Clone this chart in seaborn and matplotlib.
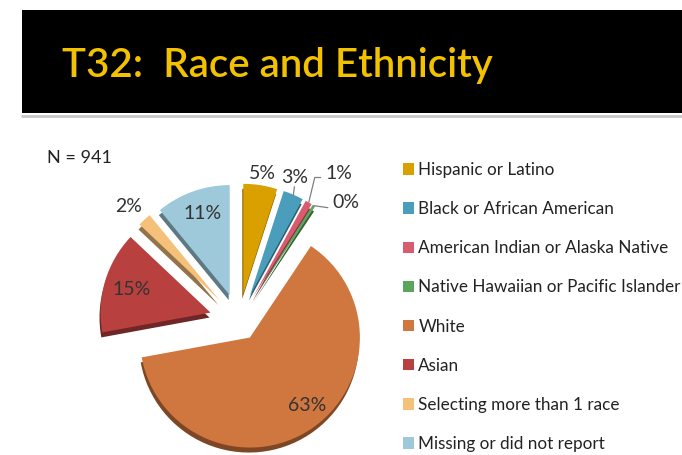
import numpy as np
import matplotlib
matplotlib.use("Agg")
import matplotlib.pyplot as plt
from matplotlib.patches import Rectangle
import seaborn as sns

sns.set_theme(style="white")
plt.rcParams['font.family'] = ['Lato', 'DejaVu Sans']

# ---- data ----
categories = ["Hispanic or Latino", "Black or African American",
              "American Indian or Alaska Native", "Native Hawaiian or Pacific Islander",
              "White", "Asian", "Selecting more than 1 race", "Missing or did not report"]
percent = [5, 3, 1, 0.4, 63, 15, 2, 11]
n_total = 941
title = "T32:  Race and Ethnicity"

# ---- style ----
colors = ["#D9A000", "#4A9DBB", "#D95B6F", "#5AA65A",
          "#D0773F", "#B8403F", "#F5C07A", "#9DC9DA"]
explode_frac = [0.25, 0.25, 0.25, 0.25, 0.18, 0.27, 0.26, 0.25]
label_r = [1.36, 1.40, 1.62, 1.45, 0.99, 1.02, 1.45, 1.03]
label_dang = [0, 2, -3.5, -9, 5.7, 0, 1, -1]

W, H = 682, 455
fig = plt.figure(figsize=(W / 100, H / 100), dpi=100)
fig.patch.set_facecolor("white")
ax = fig.add_axes([0, 0, 1, 1])

cx, cy, R = 239, H - 321, 110
palette = sns.color_palette(colors)
dark = [tuple(c * 0.6 for c in col) for col in palette]
explode = [e * R for e in explode_frac]

# depth layer (3D look)
ax.pie(percent, explode=explode, colors=dark, startangle=90, counterclock=False,
       center=(cx - 1, cy - 5), radius=R, wedgeprops=dict(linewidth=0))
wedges, _ = ax.pie(percent, explode=explode, colors=palette, startangle=90,
                   counterclock=False, center=(cx, cy), radius=R,
                   wedgeprops=dict(linewidth=0))
for w in wedges:
    w.set_zorder(3)

# percentage labels
mids = []
for i, (w, v) in enumerate(zip(wedges, percent)):
    thm = 0.5 * (w.theta1 + w.theta2)
    mids.append(thm)
    a = np.deg2rad(thm + label_dang[i])
    tx, ty = cx + label_r[i] * R * np.cos(a), cy + label_r[i] * R * np.sin(a)
    ax.text(tx, ty, f"{v:.0f}%", ha="center", va="center", fontsize=14,
            color="#333333", zorder=5)

# leader lines for small slices
def edge_point(i, rr=1.0):
    w = wedges[i]
    a = np.deg2rad(mids[i])
    vx, vy = w.center
    return vx + rr * R * np.cos(a), vy + rr * R * np.sin(a)

lc = "#808080"
x0, y0 = edge_point(1)
ax.plot([x0, x0 + 1], [y0, y0 + 8], color=lc, lw=0.9, zorder=4)
x0, y0 = edge_point(2)
ax.plot([x0, x0 + 6, x0 + 12], [y0, y0 + 25, y0 + 25], color=lc, lw=0.9, zorder=4)
x0, y0 = edge_point(3)
ax.plot([x0, x0 + 14], [y0, y0 - 2], color=lc, lw=0.9, zorder=4)

ax.set_xlim(0, W)
ax.set_ylim(0, H)
ax.set_aspect("equal")
ax.axis("off")

# banner
ax.add_patch(Rectangle((22, H - 113), W - 22, 103, facecolor="black",
                       edgecolor="none", zorder=1))
ax.plot([22, W], [H - 116, H - 116], color="#C8C8C8", lw=2, zorder=1)
ax.text(62, H - 65, title, ha="left", va="center", fontsize=29,
        color="#F2C200", fontweight="semibold", zorder=2)

ax.text(47, H - 158, f"N = {n_total}", ha="left", va="center", fontsize=13,
        color="#222222")

leg = ax.legend(wedges, categories, loc="upper left",
                bbox_to_anchor=(403 / W, 1 - 162 / H), bbox_transform=fig.transFigure,
                frameon=False, fontsize=12.3, handlelength=0.65, handleheight=0.65,
                handletextpad=0.25, labelspacing=1.355, borderaxespad=0,
                borderpad=0)
for t in leg.get_texts():
    t.set_color("#222222")

fig.savefig("out.png", dpi=100)
